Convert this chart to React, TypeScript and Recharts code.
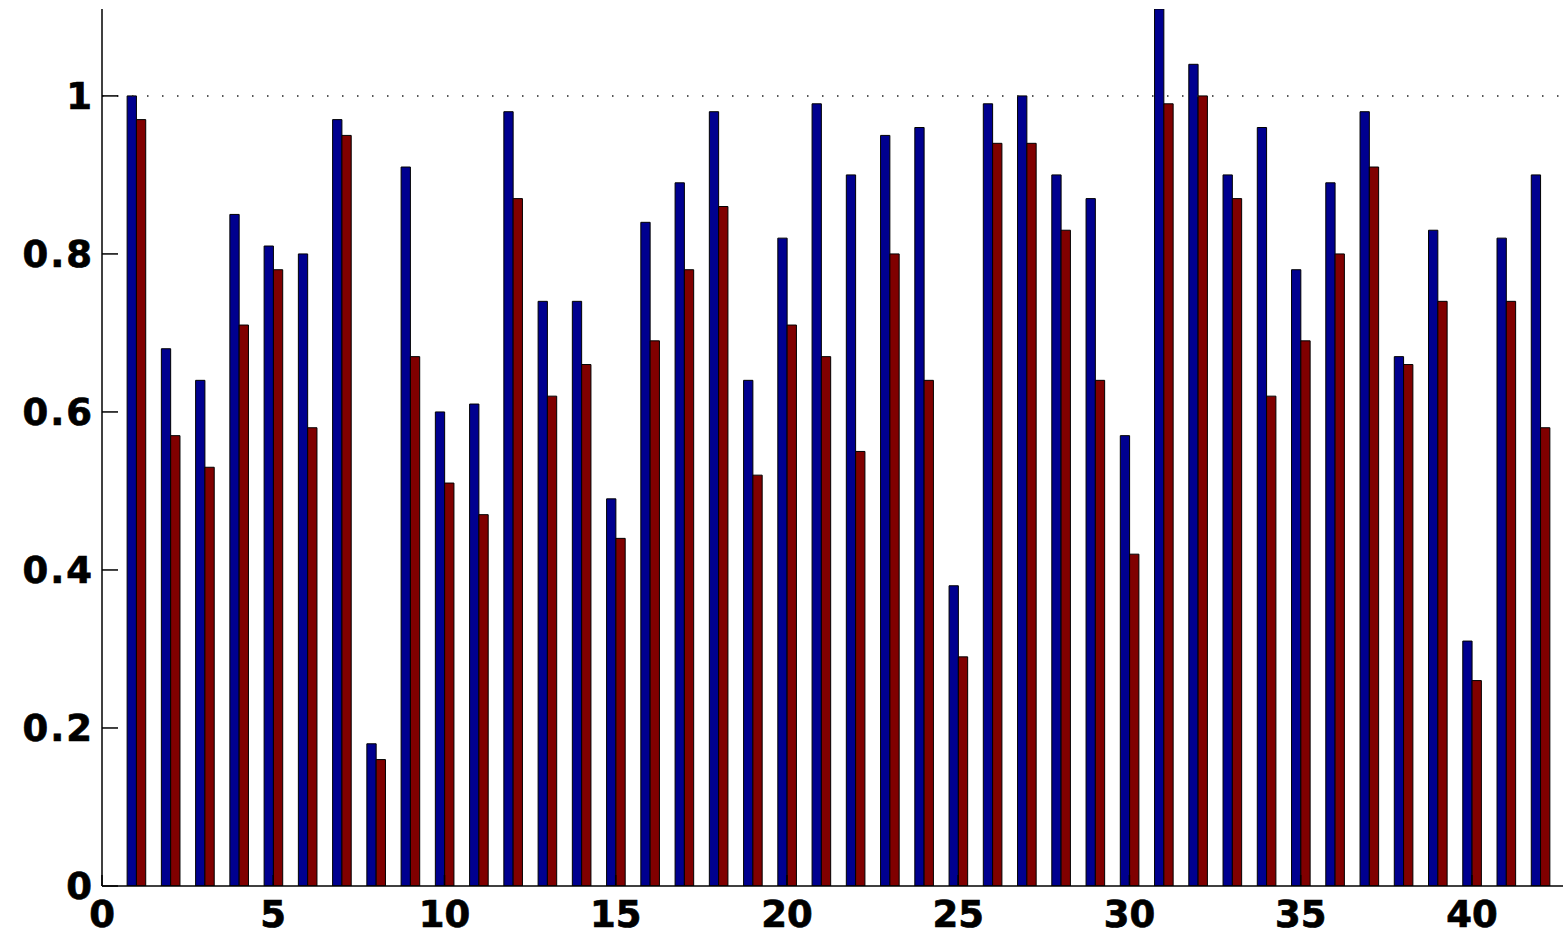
import { BarChart, Bar, XAxis, YAxis, ReferenceLine } from 'recharts'

// group index along the x axis
const groups = [
  1, 2, 3, 4, 5, 6, 7, 8, 9, 10, 11, 12, 13, 14, 15, 16, 17, 18, 19, 20, 21,
  22, 23, 24, 25, 26, 27, 28, 29, 30, 31, 32, 33, 34, 35, 36, 37, 38, 39, 40,
  41, 42,
]

// first series (dark blue)
const blueValues = [
  1.0, 0.68, 0.64, 0.85, 0.81, 0.8, 0.97, 0.18, 0.91, 0.6, 0.61, 0.98, 0.74,
  0.74, 0.49, 0.84, 0.89, 0.98, 0.64, 0.82, 0.99, 0.9, 0.95, 0.96, 0.38, 0.99,
  1.0, 0.9, 0.87, 0.57, 1.11, 1.04, 0.9, 0.96, 0.78, 0.89, 0.98, 0.67, 0.83,
  0.31, 0.82, 0.9,
]

// second series (dark red)
const redValues = [
  0.97, 0.57, 0.53, 0.71, 0.78, 0.58, 0.95, 0.16, 0.67, 0.51, 0.47, 0.87, 0.62,
  0.66, 0.44, 0.69, 0.78, 0.86, 0.52, 0.71, 0.67, 0.55, 0.8, 0.64, 0.29, 0.94,
  0.94, 0.83, 0.64, 0.42, 0.99, 1.0, 0.87, 0.62, 0.69, 0.8, 0.91, 0.66, 0.74,
  0.26, 0.74, 0.58,
]

const xTicks = [0, 5, 10, 15, 20, 25, 30, 35, 40]
const yTicks = [0, 0.2, 0.4, 0.6, 0.8, 1]

const data = groups.map((g, i) => ({
  group: g,
  blue: blueValues[i],
  red: redValues[i],
}))

// heavy, wide labels like the old matlab helvetica bold
const tickStyle = {
  fill: '#000',
  stroke: '#000',
  strokeWidth: 0.7,
  fontSize: 37,
  fontWeight: 'bold',
  fontFamily: '"DejaVu Sans", sans-serif',
}

export default function App() {
  return (
    <div style={{ position: 'absolute', left: 0, top: 0, background: '#fff' }}>
      <BarChart
        width={1563}
        height={936}
        data={data}
        margin={{ top: 9, right: 0, bottom: 0, left: 0 }}
        barGap={0}
      >
        <XAxis
          dataKey="group"
          type="number"
          domain={[0, 42.66]}
          allowDataOverflow
          ticks={xTicks}
          interval={0}
          height={50}
          stroke="#000"
          axisLine={{ stroke: '#000', strokeWidth: 1.5 }}
          tickLine={{ stroke: '#000', strokeWidth: 1.5 }}
          tickSize={-11}
          tickMargin={26}
          tick={tickStyle}
        />
        <YAxis
          type="number"
          domain={[0, 1.11]}
          allowDataOverflow
          ticks={yTicks}
          interval={0}
          width={102}
          stroke="#000"
          axisLine={{ stroke: '#000', strokeWidth: 1.5 }}
          tickLine={{ stroke: '#000', strokeWidth: 1.5 }}
          tickSize={-16}
          tickMargin={24}
          tick={{ ...tickStyle, letterSpacing: 2 }}
          tickFormatter={(v: number) => String(v)}
        />
        <ReferenceLine
          y={1}
          stroke="#222"
          strokeWidth={1.5}
          strokeDasharray="1.5 13.5"
        />
        <Bar
          dataKey="blue"
          fill="#00008F"
          stroke="#000"
          strokeWidth={1}
          barSize={9.3}
          isAnimationActive={false}
        />
        <Bar
          dataKey="red"
          fill="#800000"
          stroke="#000"
          strokeWidth={1}
          barSize={9.3}
          isAnimationActive={false}
        />
      </BarChart>
    </div>
  )
}
